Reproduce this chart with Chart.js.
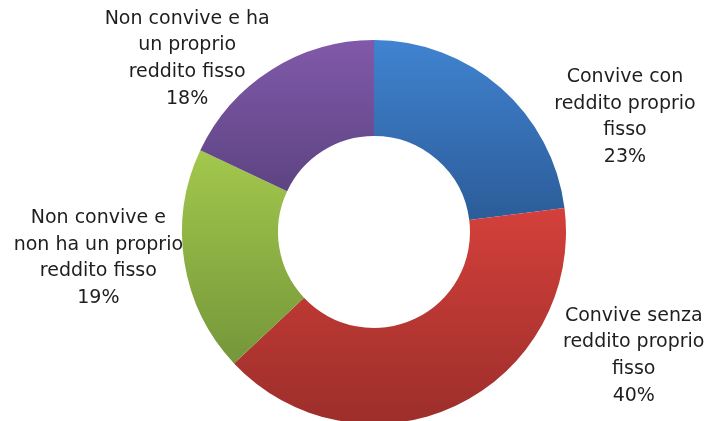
<!DOCTYPE html>
<html>
<head>
<meta charset="utf-8">
<script src="https://cdn.jsdelivr.net/npm/chart.js@4"></script>
<style>
    html, body { margin: 0; padding: 0; background: #fff; overflow: hidden; }
    #wrap { position: relative; width: 713px; height: 424px; }
</style>
</head>
<body>
<div id="wrap"><canvas id="chart"></canvas></div>
<script>
// categorie e valori (%)
const categories = [
    'Convive con reddito proprio fisso',
    'Convive senza reddito proprio fisso',
    'Non convive e non ha un proprio reddito fisso',
    'Non convive e ha un proprio reddito fisso'
];
const values = [23, 40, 19, 18];

// etichette su più righe come nel grafico
const labelLines = [
    ['Convive con', 'reddito proprio', 'fisso', '23%'],
    ['Convive senza', 'reddito proprio', 'fisso', '40%'],
    ['Non convive e', 'non ha un proprio', 'reddito fisso', '19%'],
    ['Non convive e ha', 'un proprio', 'reddito fisso', '18%']
];
// spostamento dell'etichetta rispetto al bordo esterno (a metà fetta)
const labelOffsets = [[124, 29], [178, -50], [-86, -4], [-84, -11]];

const colorTop = ['#4083d0', '#d4403b', '#a3c84c', '#8159aa'];
const colorBottom = ['#2c5c99', '#9c2e2a', '#75963a', '#5d4482'];

function sliceGradient(ctx) {
    const chart = ctx.chart;
    const area = chart.chartArea;
    const i = ctx.dataIndex;
    if (!area || i == null) return colorTop[i || 0];

    const cx = (area.left + area.right) / 2;
    const cy = (area.top + area.bottom) / 2;
    const rOut = Math.min(area.right - area.left, area.bottom - area.top) / 2;
    const rIn = rOut * 0.5;

    const total = values.reduce((s, v) => s + v, 0);
    let start = -Math.PI / 2;
    for (let k = 0; k < i; k++) start += values[k] / total * Math.PI * 2;
    const end = start + values[i] / total * Math.PI * 2;

    let minY = Infinity, maxY = -Infinity;
    for (let s = 0; s <= 60; s++) {
        const a = start + (end - start) * s / 60;
        [rOut, rIn].forEach(r => {
            const y = cy + Math.sin(a) * r;
            minY = Math.min(minY, y);
            maxY = Math.max(maxY, y);
        });
    }

    const g = chart.ctx.createLinearGradient(0, minY, 0, maxY);
    g.addColorStop(0, colorTop[i]);
    g.addColorStop(1, colorBottom[i]);
    return g;
}

const outsideLabels = {
    id: 'outsideLabels',
    afterDatasetsDraw(chart) {
        const ctx = chart.ctx;
        const meta = chart.getDatasetMeta(0);
        ctx.save();
        ctx.font = '19px "DejaVu Sans", sans-serif';
        ctx.fillStyle = '#1e1e1e';
        ctx.textAlign = 'center';
        ctx.textBaseline = 'middle';
        const lineH = 26.7;
        meta.data.forEach((arc, i) => {
            const mid = (arc.startAngle + arc.endAngle) / 2;
            const ex = arc.x + Math.cos(mid) * arc.outerRadius;
            const ey = arc.y + Math.sin(mid) * arc.outerRadius;
            const lx = ex + labelOffsets[i][0];
            const ly = ey + labelOffsets[i][1];
            const lines = labelLines[i];
            const y0 = ly - (lines.length - 1) * lineH / 2;
            lines.forEach((t, j) => ctx.fillText(t, lx, y0 + j * lineH));
        });
        ctx.restore();
    }
};

new Chart(document.getElementById('chart'), {
    type: 'doughnut',
    data: {
        labels: categories,
        datasets: [{
            data: values,
            backgroundColor: sliceGradient,
            borderWidth: 0
        }]
    },
    options: {
        responsive: true,
        maintainAspectRatio: false,
        animation: false,
        cutout: '50%',
        layout: { padding: { top: 40, bottom: 0, left: 35, right: 0 } },
        plugins: {
            legend: { display: false },
            tooltip: { enabled: false }
        }
    },
    plugins: [outsideLabels]
});
</script>
</body>
</html>
